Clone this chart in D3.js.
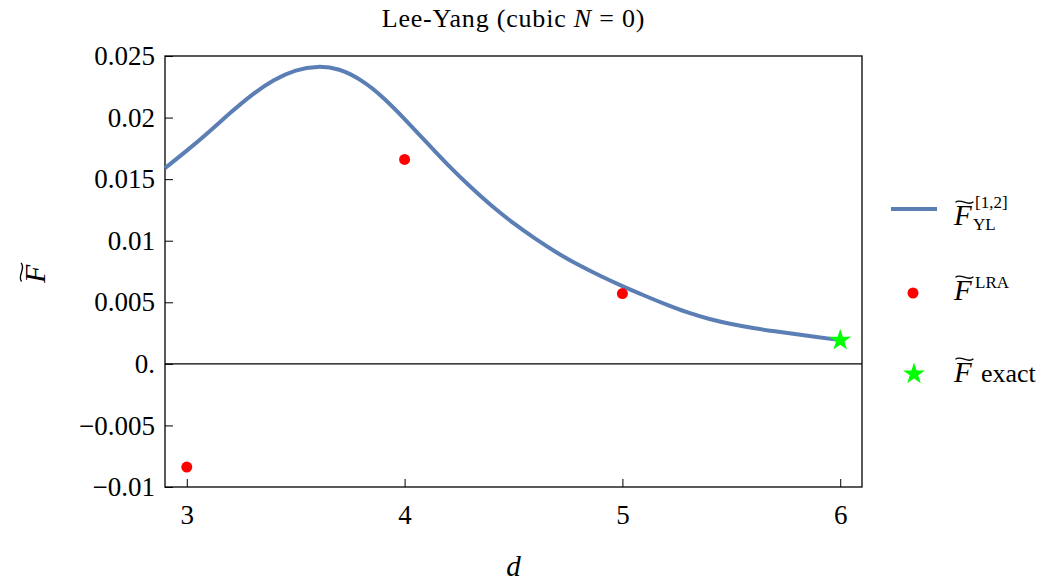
<!DOCTYPE html>
<html lang="en">
<head>
    <meta charset="UTF-8">
    <title>Lee-Yang (cubic N = 0)</title>
    <script src="https://cdn.jsdelivr.net/npm/d3@7"></script>
    <style>
        body { margin: 0; background: #fff; }
        text { font-family: "Liberation Serif", "DejaVu Serif", serif; fill: #000; }
    </style>
</head>
<body>
<script>
    // curve F_YL^[1,2]
    var curveD = [2.9, 3.0, 3.1, 3.2, 3.3, 3.4, 3.5, 3.6, 3.7, 3.8, 3.9, 4.0, 4.1, 4.2, 4.3, 4.4, 4.5, 4.6, 4.7, 4.8, 4.9, 5.0, 5.1, 5.2, 5.3, 5.4, 5.5, 5.6, 5.7, 5.8, 5.9, 6.0];
    var curveF = [0.0159, 0.0173, 0.0188, 0.0204, 0.0219, 0.0231, 0.0239, 0.0242, 0.0240, 0.0231, 0.0217, 0.0199, 0.0180, 0.0161, 0.0144, 0.0128, 0.0114, 0.01015, 0.0090, 0.0080, 0.00712, 0.00630, 0.00555, 0.00482, 0.00415, 0.00362, 0.00322, 0.00290, 0.00264, 0.00240, 0.00216, 0.00193];
    // LRA points
    var lraD = [3, 4, 5];
    var lraF = [-0.00838, 0.0166, 0.00571];
    // exact value
    var exactD = [6];
    var exactF = [0.00192];
    // ticks
    var xTicks = [3, 4, 5, 6];
    var yTicks = [-0.01, -0.005, 0, 0.005, 0.01, 0.015, 0.02, 0.025];
    var yTickLabels = ['\u22120.01', '\u22120.005', '0.', '0.005', '0.01', '0.015', '0.02', '0.025'];

    var width = 1055, height = 584;
    var pLeft = 165, pRight = 862, pTop = 56, pBottom = 487;

    var svg = d3.select('body').append('svg')
        .attr('width', width)
        .attr('height', height);

    var x = d3.scaleLinear().domain([2.9, 6.1]).range([pLeft, pRight]);
    var y = d3.scaleLinear().domain([-0.01, 0.025]).range([pBottom, pTop]);

    //坐标轴
    var xAxis = d3.axisBottom(x).tickValues(xTicks).tickSizeInner(-8).tickSizeOuter(0).tickPadding(14)
        .tickFormat(d3.format('d'));
    var yAxis = d3.axisLeft(y).tickValues(yTicks).tickSizeInner(-8).tickSizeOuter(0).tickPadding(10)
        .tickFormat(function(d, i) { return yTickLabels[i]; });

    var gx = svg.append('g').attr('transform', 'translate(0,' + pBottom + ')').call(xAxis);
    var gy = svg.append('g').attr('transform', 'translate(' + pLeft + ',0)').call(yAxis);
    [gx, gy].forEach(function(g) {
        g.attr('font-size', 27).attr('font-family', '"Liberation Serif", serif');
        g.select('.domain').remove();
        g.selectAll('line').attr('stroke', '#000').attr('stroke-width', 1);
        g.selectAll('text').attr('fill', '#000');
    });
    gx.selectAll('text').attr('dy', '0.85em');

    // zero line
    svg.append('line')
        .attr('x1', pLeft).attr('x2', pRight)
        .attr('y1', y(0)).attr('y2', y(0))
        .attr('stroke', '#000').attr('stroke-width', 1.2);

    // frame
    svg.append('rect')
        .attr('x', pLeft).attr('y', pTop)
        .attr('width', pRight - pLeft).attr('height', pBottom - pTop)
        .attr('fill', 'none').attr('stroke', '#000').attr('stroke-width', 1.3);

    // curve
    var line = d3.line()
        .x(function(d, i) { return x(curveD[i]); })
        .y(function(d) { return y(d); })
        .curve(d3.curveBasis);
    svg.append('path')
        .datum(curveF)
        .attr('d', line)
        .attr('fill', 'none')
        .attr('stroke', '#5b7fb5')
        .attr('stroke-width', 4);

    // LRA points
    svg.append('g').selectAll('circle')
        .data(lraF)
        .enter()
        .append('circle')
        .attr('cx', function(d, i) { return x(lraD[i]); })
        .attr('cy', function(d) { return y(d); })
        .attr('r', 5.5)
        .attr('fill', '#ff0000');

    // exact
    var star = d3.symbol().type(d3.symbolStar).size(150);
    svg.append('g').selectAll('path')
        .data(exactF)
        .enter()
        .append('path')
        .attr('d', star)
        .attr('transform', function(d, i) { return 'translate(' + x(exactD[i]) + ',' + y(d) + ')'; })
        .attr('fill', '#00ff00');

    // title
    var title = svg.append('text')
        .attr('x', (pLeft + pRight) / 2).attr('y', 27)
        .attr('text-anchor', 'middle')
        .attr('font-size', 26)
        .attr('letter-spacing', 0.8);
    title.append('tspan').text('Lee-Yang (cubic ');
    title.append('tspan').attr('font-style', 'italic').text('N');
    title.append('tspan').text(' = 0)');

    // x label
    svg.append('text')
        .attr('x', (pLeft + pRight) / 2).attr('y', 576)
        .attr('text-anchor', 'middle')
        .attr('font-size', 29).attr('font-style', 'italic')
        .text('d');

    // F with wide tilde
    function tildeF(g, size) {
        g.append('text')
            .attr('x', 0).attr('y', 0)
            .attr('font-size', size).attr('font-style', 'italic')
            .text('F');
        var w = size * 0.62, h = size * 0.1, t = -size * 0.78;
        g.append('path')
            .attr('d', 'M' + (size * 0.05) + ',' + t +
                ' C' + (size * 0.05 + w * 0.3) + ',' + (t - h * 1.6) + ' ' +
                (size * 0.05 + w * 0.7) + ',' + (t + h * 1.6) + ' ' +
                (size * 0.05 + w) + ',' + (t - h * 0.2))
            .attr('fill', 'none').attr('stroke', '#000').attr('stroke-width', size * 0.045);
    }

    // y label
    tildeF(svg.append('g').attr('transform', 'translate(45,283) rotate(-90)'), 30);

    // legend
    var lg = svg.append('g');
    lg.append('line')
        .attr('x1', 891).attr('x2', 937).attr('y1', 209).attr('y2', 209)
        .attr('stroke', '#5b7fb5').attr('stroke-width', 4);
    var e1 = lg.append('g').attr('transform', 'translate(954,225)');
    tildeF(e1, 29);
    e1.append('text').attr('x', 21).attr('y', -17).attr('font-size', 17).text('[1,2]');
    e1.append('text').attr('x', 19).attr('y', 5).attr('font-size', 17).text('YL');

    lg.append('circle').attr('cx', 913).attr('cy', 293).attr('r', 5.5).attr('fill', '#ff0000');
    var e2 = lg.append('g').attr('transform', 'translate(954,300)');
    tildeF(e2, 29);
    e2.append('text').attr('x', 21).attr('y', -12).attr('font-size', 17).text('LRA');

    lg.append('path').attr('d', star).attr('transform', 'translate(914,374)').attr('fill', '#00ff00');
    var e3 = lg.append('g').attr('transform', 'translate(954,382)');
    tildeF(e3, 29);
    e3.append('text').attr('x', 27).attr('y', 0).attr('font-size', 26).text('exact');
</script>
</body>
</html>
